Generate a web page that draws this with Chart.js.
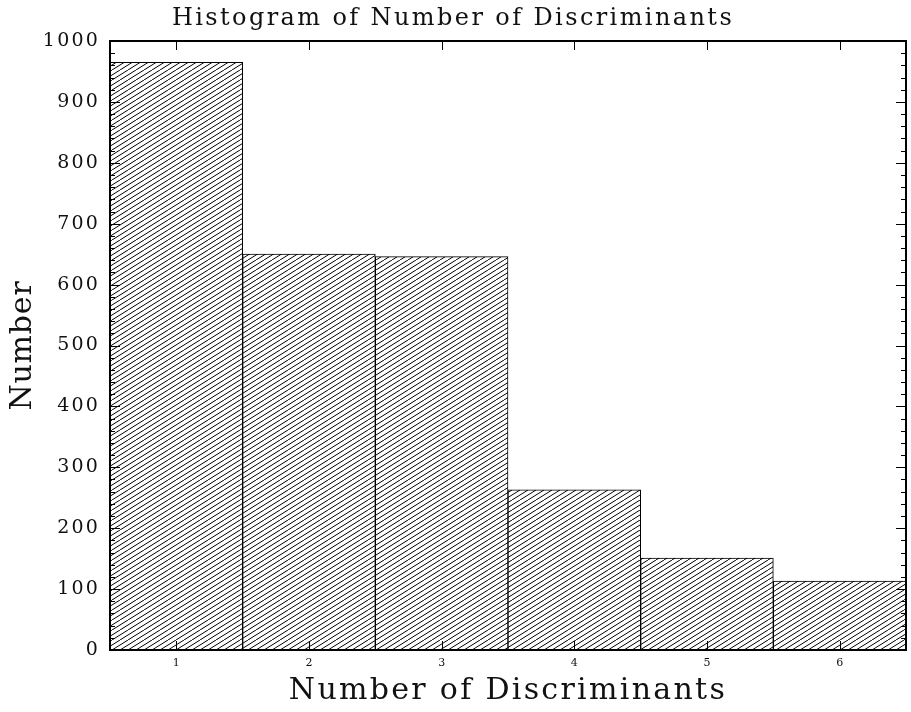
<!DOCTYPE html>
<html>
<head>
<meta charset="utf-8">
<script src="https://cdn.jsdelivr.net/npm/chart.js@4/dist/chart.umd.min.js"></script>
<style>
  html, body { margin: 0; padding: 0; background: #fff; }
  #wrap { width: 911px; height: 712px; }
</style>
</head>
<body>
<div id="wrap"><canvas id="c" width="911" height="712"></canvas></div>
<script>
const categories = ['1', '2', '3', '4', '5', '6'];
const counts = [965, 650, 646, 263, 151, 113];
const yMin = 0;
const yMax = 1000;
const yMajorStep = 100;
const yMinorStep = 20;
const chartTitle = 'Histogram of Number of Discriminants';
const xTitle = 'Number of Discriminants';
const yTitle = 'Number';

// extra letter spacing (px) per text size, to mimic the wide plotter font
const spacingBySize = { 24: 2.4, 30: 2.3, 19: 2.2, 11: 0 };
const spacingByText = { 'Number': 0.8 };

function makeHatch() {
  const w = 16, h = 10;
  const pc = document.createElement('canvas');
  pc.width = w; pc.height = h;
  const g = pc.getContext('2d');
  g.fillStyle = '#fff';
  g.fillRect(0, 0, w, h);
  g.strokeStyle = '#000';
  g.lineWidth = 1;
  for (let k = -3; k <= 3; k++) {
    const off = k * 8;
    g.beginPath();
    g.moveTo(off, h);
    g.lineTo(off + w, 0);
    g.stroke();
  }
  return g.createPattern(pc, 'repeat');
}

const frameAndTicks = {
  id: 'frameAndTicks',
  afterDatasetsDraw(chart) {
    const { ctx, chartArea: a, scales } = chart;
    const ys = scales.y, xs = scales.x;
    ctx.save();
    ctx.strokeStyle = '#000';
    ctx.lineWidth = 1;
    for (let v = yMin; v <= yMax; v += yMinorStep) {
      const y = Math.round(ys.getPixelForValue(v)) + 0.5;
      const len = (v % yMajorStep === 0) ? 10 : 5;
      ctx.beginPath();
      ctx.moveTo(a.left, y); ctx.lineTo(a.left + len, y);
      ctx.moveTo(a.right, y); ctx.lineTo(a.right - len, y);
      ctx.stroke();
    }
    for (let i = 0; i < categories.length; i++) {
      const x = Math.round(xs.getPixelForValue(i)) + 0.5;
      ctx.beginPath();
      ctx.moveTo(x, a.bottom); ctx.lineTo(x, a.bottom - 9);
      ctx.moveTo(x, a.top); ctx.lineTo(x, a.top + 9);
      ctx.stroke();
    }
    ctx.lineWidth = 2;
    ctx.strokeRect(a.left, a.top, a.right - a.left, a.bottom - a.top);
    ctx.restore();
  }
};

const canvas = document.getElementById('c');
const ctx = canvas.getContext('2d');
const origFillText = ctx.fillText.bind(ctx);
ctx.fillText = function (text, x, y, maxWidth) {
  const m = /(\d+(?:\.\d+)?)px/.exec(this.font);
  const size = m ? Math.round(+m[1]) : 0;
  let ls = spacingByText[text] !== undefined ? spacingByText[text] : (spacingBySize[size] || 0);
  const prev = this.letterSpacing;
  this.letterSpacing = ls + 'px';
  if (maxWidth !== undefined) origFillText(text, x, y, maxWidth); else origFillText(text, x, y);
  this.letterSpacing = prev;
};

new Chart(ctx, {
  type: 'bar',
  data: {
    labels: categories,
    datasets: [{
      data: counts,
      backgroundColor: makeHatch(),
      borderColor: '#000',
      borderWidth: 1,
      borderSkipped: false,
      barPercentage: 1,
      categoryPercentage: 1
    }]
  },
  options: {
    responsive: false,
    animation: false,
    devicePixelRatio: 1,
    layout: { padding: { left: 0, right: 5, top: 0, bottom: 0 } },
    plugins: {
      legend: { display: false },
      tooltip: { enabled: false },
      title: {
        display: true,
        text: chartTitle,
        color: '#111',
        font: { family: 'DejaVu Serif', size: 24, weight: 'normal', lineHeight: 1.2 },
        padding: { top: 4, bottom: 8.2 }
      }
    },
    scales: {
      x: {
        grid: { display: false, drawTicks: false },
        border: { display: false },
        ticks: { color: '#111', font: { family: 'DejaVu Serif', size: 11 }, padding: 7, maxRotation: 0 },
        title: {
          display: true, text: xTitle, color: '#111',
          font: { family: 'DejaVu Serif', size: 30, weight: 'normal', lineHeight: 1.2 },
          padding: { top: 0, bottom: 3 }
        },
        afterFit(s) { s.height = 62; }
      },
      y: {
        min: yMin, max: yMax,
        grid: { display: false, drawTicks: false },
        border: { display: false },
        ticks: {
          stepSize: yMajorStep, color: '#111',
          font: { family: 'DejaVu Serif', size: 19 }, padding: 10,
          callback: (v) => String(v)
        },
        title: {
          display: true, text: yTitle, color: '#111',
          font: { family: 'DejaVu Serif', size: 30, weight: 'normal', lineHeight: 1.2 },
          padding: { top: 5, bottom: 0 }
        },
        afterFit(s) { s.width = 110; }
      }
    }
  },
  plugins: [frameAndTicks]
});
</script>
</body>
</html>
